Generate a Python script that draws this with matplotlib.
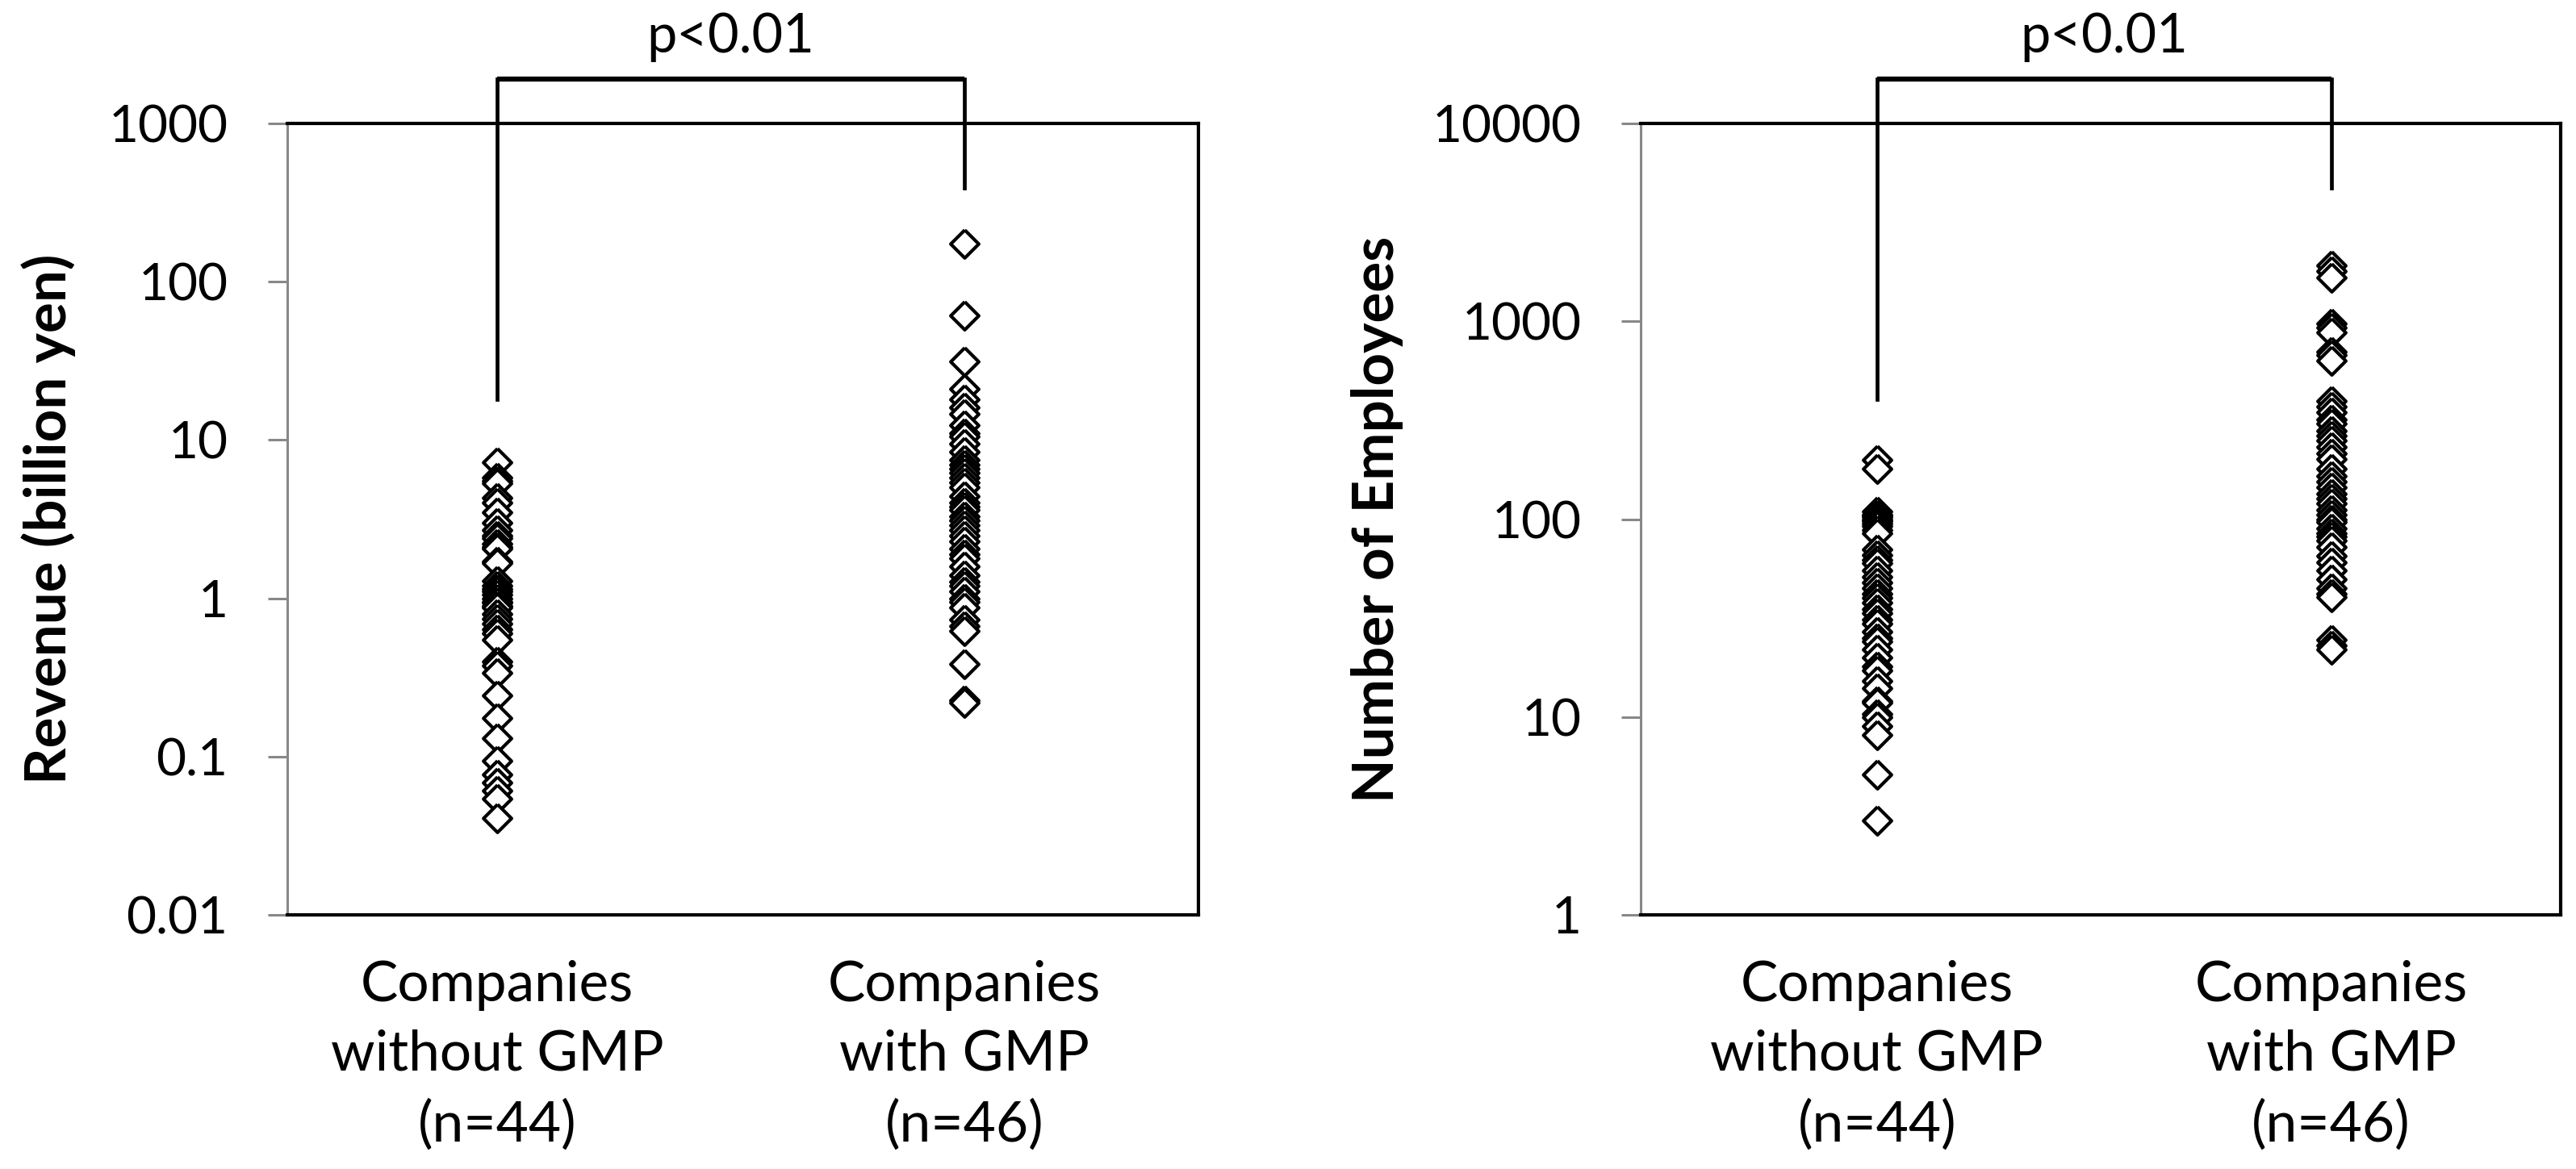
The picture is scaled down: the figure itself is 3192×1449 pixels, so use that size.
import matplotlib
matplotlib.use('Agg')
import matplotlib.pyplot as plt
import matplotlib.transforms as mtransforms

plt.rcParams['font.family'] = ['Lato', 'DejaVu Sans']

groups = ['Companies\nwithout GMP\n(n=44)', 'Companies\nwith GMP\n(n=46)']

# revenue in billion yen
revenue_without = [7.2, 5.8, 5.5, 5.3, 4.3, 4.0, 3.5, 3.0, 2.7, 2.5, 2.4, 2.2, 2.1, 2.06,
                   1.7, 1.66, 1.29, 1.2, 1.15, 1.1, 1.06, 1.0, 0.95, 0.94, 0.9, 0.87, 0.8,
                   0.745, 0.69, 0.64, 0.6, 0.545, 0.40, 0.376, 0.34, 0.244, 0.175, 0.13,
                   0.094, 0.077, 0.0685, 0.061, 0.054, 0.041]
revenue_with = [174, 61.5, 31.5, 21, 18, 16, 14.6, 12.4, 11, 10.5, 9.5, 8.4, 7.5, 7.0, 6.6,
                6.2, 5.8, 5.4, 5.0, 4.4, 4.0, 3.8, 3.6, 3.3, 3.1, 2.9, 2.7, 2.5, 2.3, 2.05,
                1.9, 1.78, 1.6, 1.4, 1.27, 1.2, 1.10, 1.0, 0.95, 0.87, 0.73, 0.67, 0.62,
                0.385, 0.227, 0.22]

# number of employees
employees_without = [200, 180, 109, 105, 104, 102, 100, 98, 95, 92, 88, 85, 70, 66, 62, 60,
                     55, 51, 48, 45, 42, 40, 38, 35, 33.6, 31, 29.6, 27, 25, 24, 22, 20, 18,
                     17.2, 15.2, 14, 12, 11.8, 10.4, 10, 9, 8.1, 5.1, 3.0]
employees_with = [1910, 1800, 1670, 977, 930, 883, 700, 676, 632, 395, 370, 346, 320, 303,
                  280, 264, 250, 231, 215, 202, 180, 165, 155, 145, 135, 127, 120, 111, 105,
                  100, 97, 90, 85, 82, 78, 72, 65, 60.5, 55, 49.5, 44.8, 42, 40.5, 24.5, 23, 22]

revenue_ticks = [0.01, 0.1, 1, 10, 100, 1000]
revenue_ticklabels = ['0.01', '0.1', '1', '10', '100', '1000']
employee_ticks = [1, 10, 100, 1000, 10000]
employee_ticklabels = ['1', '10', '100', '1000', '10000']

p_text = 'p<0.01'

diamond = [(0, 1), (1, 0), (0, -1), (-1, 0), (0, 1)]
gray = '#888888'


def draw_panel(ax, without, with_, ticks, ticklabels, ylabel, xlim, label_x):
    ax.plot([1] * len(without), without, linestyle='none', marker=diamond, ms=25,
            mfc='white', mec='black', mew=3, clip_on=False)
    ax.plot([2] * len(with_), with_, linestyle='none', marker=diamond, ms=25,
            mfc='white', mec='black', mew=3, clip_on=False)
    ax.set_yscale('log')
    ax.set_ylim(ticks[0], ticks[-1])
    ax.set_xlim(*xlim)
    ax.set_yticks(ticks)
    ax.set_yticklabels(ticklabels)
    ax.yaxis.set_minor_locator(matplotlib.ticker.NullLocator())
    ax.set_xticks([1, 2])
    ax.set_xticklabels(groups, linespacing=1.45)
    ax.tick_params(axis='x', length=0, pad=40, labelsize=50)
    ax.tick_params(axis='y', length=17, width=2.2, color=gray, pad=36, labelsize=46)
    for side in ['top', 'right', 'bottom']:
        ax.spines[side].set_linewidth(3)
        ax.spines[side].set_color('black')
    ax.spines['left'].set_linewidth(2.2)
    ax.spines['left'].set_color(gray)
    ax.set_ylabel(ylabel, fontsize=51, fontweight='bold', va='center')
    ax.yaxis.set_label_coords(label_x, 0.5)

    # significance bracket
    trans = mtransforms.blended_transform_factory(ax.transData, ax.transAxes)
    ax.plot([1, 1, 2, 2], [0.651, 1.056, 1.056, 0.918], color='black', lw=3.4,
            transform=trans, clip_on=False, solid_joinstyle='miter')
    ax.plot([1, 2], [1.056, 1.056], color='black', lw=4.5, transform=trans,
            clip_on=False, solid_capstyle='butt')
    ax.text(1.5, 1.0897, p_text, transform=trans, ha='center', va='baseline', fontsize=48)


fig = plt.figure(figsize=(31.92, 14.49), dpi=100)
ax1 = fig.add_axes([0.1115, 0.2174, 0.3537, 0.6770])
ax2 = fig.add_axes([0.6369, 0.2174, 0.3571, 0.6770])

draw_panel(ax1, revenue_without, revenue_with, revenue_ticks, revenue_ticklabels,
           'Revenue (billion yen)', (0.551, 2.50), -0.262)
draw_panel(ax2, employees_without, employees_with, employee_ticks, employee_ticklabels,
           'Number of Employees', (0.48, 2.505), -0.286)

fig.savefig('out.png', dpi=100)
